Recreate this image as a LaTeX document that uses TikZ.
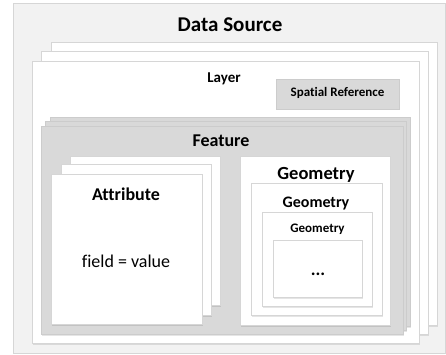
\documentclass[tikz,border=0pt]{standalone}
\usepackage{fontspec}
\setmainfont[Ligatures=NoCommon]{Carlito}
\usetikzlibrary{shadows}
\definecolor{outerfill}{HTML}{F2F2F2}
\definecolor{edgecol}{HTML}{D6D6D6}
\definecolor{featfill}{HTML}{D9D9D9}
\definecolor{featedge}{HTML}{CCCCCC}
\tikzset{
  panel/.style={rectangle, anchor=north west, inner sep=0pt, outer sep=0pt, line width=0.8pt},
  outerbox/.style={panel, fill=outerfill, draw=edgecol},
  whitebox/.style={panel, fill=white, draw=edgecol,
    drop shadow={shadow xshift=1.2pt, shadow yshift=-1.5pt, fill=black, opacity=0.10}},
  graybox/.style={panel, fill=featfill, draw=featedge,
    drop shadow={shadow xshift=1.2pt, shadow yshift=-1.5pt, fill=black, opacity=0.10}},
  lbl/.style={inner sep=0pt, anchor=base, text=black},
}
\newcommand{\fs}[1]{\fontsize{#1}{#1}\selectfont}
\begin{document}
\begin{tikzpicture}[x=1pt, y=-1pt]
\useasboundingbox (0,0) rectangle (446,355);
% outer data source
\node[outerbox, minimum width=432pt, minimum height=350pt] (ds) at (13,3) {};
% layer stack
\node[whitebox, minimum width=386pt, minimum height=283pt] (layer3) at (51,42) {};
\node[whitebox, minimum width=387pt, minimum height=283pt] (layer2) at (41,51) {};
\node[whitebox, minimum width=387pt, minimum height=282pt] (layer1) at (32,61) {};
% spatial reference
\node[panel, fill=featfill, draw=featedge, minimum width=123pt, minimum height=30pt,
      drop shadow={shadow xshift=1pt, shadow yshift=-1pt, fill=black, opacity=0.08}] (sr) at (276,79) {};
% feature stack
\node[graybox, minimum width=360pt, minimum height=209pt] (feat3) at (50,117) {};
\node[graybox, minimum width=361pt, minimum height=209pt] (feat2) at (45,121) {};
\node[graybox, minimum width=362pt, minimum height=208pt] (feat1) at (41,126) {};
% attribute stack
\node[whitebox, minimum width=150pt, minimum height=149pt] (attr3) at (70,156) {};
\node[whitebox, minimum width=150pt, minimum height=151pt] (attr2) at (61,164) {};
\node[whitebox, minimum width=151pt, minimum height=150pt] (attr1) at (51,174) {};
% geometry nest
\node[whitebox, minimum width=150pt, minimum height=169pt] (geo1) at (240,156) {};
\node[whitebox, minimum width=131pt, minimum height=132pt] (geo2) at (251,183) {};
\node[whitebox, minimum width=110pt, minimum height=94pt] (geo3) at (262,212) {};
\node[whitebox, minimum width=89pt, minimum height=57pt] (geo4) at (273,240) {};
% labels
\node[lbl, font=\bfseries\fs{21}] (tds) at (230,32) {Data Source};
\node[lbl, font=\bfseries\fs{15}] (tlayer) at (224,83) {Layer};
\node[lbl, font=\bfseries\fs{13}] (tsr) at (337.5,97) {Spatial Reference};
\node[lbl, font=\bfseries\fs{18}] (tfeat) at (221,146.5) {Feature};
\node[lbl, font=\bfseries\fs{18}] (tattr) at (126,200.5) {Attribute};
\node[lbl, font=\fs{18}] (tfield) at (126,267) {field = value};
\node[lbl, font=\bfseries\fs{18.5}] (tgeo1) at (316,179.3) {Geometry};
\node[lbl, font=\bfseries\fs{16}] (tgeo2) at (316,207.7) {Geometry};
\node[lbl, font=\bfseries\fs{13}] (tgeo3) at (317.5,232.3) {Geometry};
\node[lbl, font=\bfseries\fs{18}] (tdots) at (318,275) {...};
\end{tikzpicture}
\end{document}
